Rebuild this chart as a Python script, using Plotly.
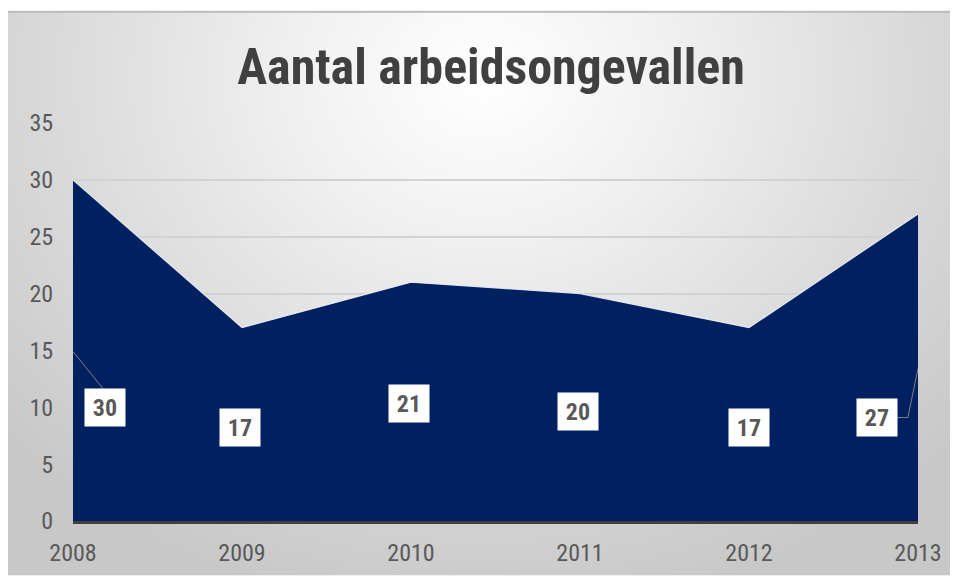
import base64
import plotly.graph_objects as go

years = ["2008", "2009", "2010", "2011", "2012", "2013"]
values = [30, 17, 21, 20, 17, 27]
y_ticks = [0, 5, 10, 15, 20, 25, 30, 35]
# label box placement (in category / value units)
label_x = [0.19, 0.99, 1.99, 2.99, 4.0, 4.76]
label_y = [10.0, 8.2, 10.3, 9.6, 8.2, 9.1]

# page has an 8px body margin
W, H = 958, 571
ML, MR, MT, MB = 65, 48, 115, 55
pw, ph = W - ML - MR, H - MT - MB

svg = f'''<svg xmlns="http://www.w3.org/2000/svg" width="{W}" height="{H}" viewBox="0 0 {W} {H}">
<defs><radialGradient id="g" gradientUnits="userSpaceOnUse" cx="475" cy="70" r="640" gradientTransform="translate(475 70) scale(1 0.85) translate(-475 -70)">
<stop offset="0" stop-color="#ffffff"/><stop offset="0.3" stop-color="#f0f0f0"/><stop offset="0.7" stop-color="#d8d8d8"/><stop offset="1" stop-color="#c8c8c8"/></radialGradient></defs>
<rect x="0" y="0" width="{W}" height="{H}" fill="#ffffff"/>
<rect x="0" y="2" width="{W}" height="{H-2}" fill="url(#g)"/>
<rect x="0" y="2" width="{W}" height="2" fill="#bdbdbd"/>
</svg>'''
src = "data:image/svg+xml;base64," + base64.b64encode(svg.encode()).decode()

xs = list(range(len(years)))
fig = go.Figure()
fig.add_trace(go.Scatter(
    x=xs, y=values, mode="lines", fill="tozeroy",
    fillcolor="#002060", line=dict(color="rgba(235,240,250,0.9)", width=1.2),
    hoverinfo="skip", showlegend=False))

font = "Liberation Sans Narrow, Roboto Condensed, Open Sans, sans-serif"
for lx, ly, v in zip(label_x, label_y, values):
    fig.add_annotation(x=lx, y=ly, text=f"<b>{v}</b>", showarrow=False,
                       bgcolor="#ffffff", width=38, height=35,
                       font=dict(family=font, size=24, color="#595959"))

# leader lines
fig.add_shape(type="line", x0=0, y0=14.9, x1=0.18, y1=11.6,
              line=dict(color="#808080", width=1))
fig.add_shape(type="path", path="M 4.875 9.1 L 4.94 9.1 L 5 13.4",
              line=dict(color="#808080", width=1))

fig.update_layout(
    width=W, height=H,
    margin=dict(l=ML, r=MR, t=MT, b=MB),
    paper_bgcolor="#ffffff", plot_bgcolor="rgba(0,0,0,0)",
    title=dict(text="<b>Aantal arbeidsongevallen</b>", x=(491 - 8) / W, xref="container",
               xanchor="center", y=(H - 58) / H, yanchor="middle",
               font=dict(family=font, size=50, color="#404040")),
    images=[dict(source=src, xref="paper", yref="paper",
                 x=-ML / pw, y=1 + MT / ph, sizex=W / pw, sizey=H / ph,
                 xanchor="left", yanchor="top", sizing="stretch", layer="below")],
    xaxis=dict(range=[0, 5], tickvals=xs, ticktext=years, showgrid=False,
               zeroline=False, showline=True, linecolor="#404040", linewidth=3,
               ticks="outside", ticklen=8, tickcolor="rgba(0,0,0,0)",
               tickfont=dict(family=font, size=24, color="#595959"),
               fixedrange=True),
    yaxis=dict(range=[0, 35], tickvals=y_ticks, showgrid=True,
               gridcolor="#d2d2d2", gridwidth=1.5, zeroline=False,
               ticks="outside", ticklen=14, tickcolor="rgba(0,0,0,0)",
               tickfont=dict(family=font, size=24, color="#595959"),
               fixedrange=True),
)
fig.write_html(
    "out.html",
    post_script="document.documentElement.style.overflow='hidden';"
                "document.body.style.overflow='hidden';",
)
